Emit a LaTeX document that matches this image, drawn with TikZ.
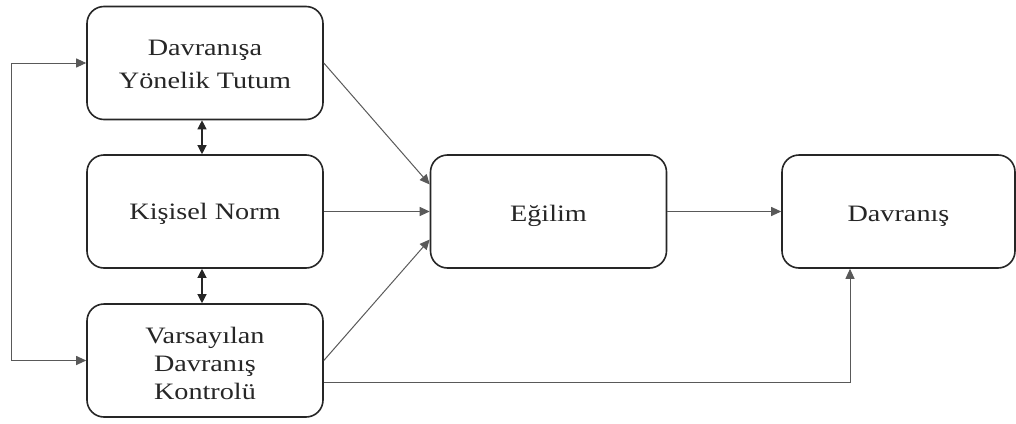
\documentclass[tikz,border=0pt]{standalone}
\usepackage{fontspec}
\usepackage{graphicx}
\setmainfont{Liberation Serif}
\usetikzlibrary{arrows.meta}

% wide-set, centred label text: [line spacing]{drop}{lines}
% the drop lowers the ink while keeping the reported box size unchanged
\newcommand{\boxtext}[3][30]{\raisebox{-#2pt}[\height][\depth]{\scalebox{1.2}[1]{\fontsize{23.5}{#1}\selectfont\begin{tabular}{@{}c@{}}#3\end{tabular}}}}

\tikzset{
  stagebox/.style={draw=black!85, line width=1.6pt, rounded corners=17pt,
    minimum width=236pt, minimum height=113pt, inner sep=0pt,
    text=black!85, fill=white},
  link/.style={draw=black!65, line width=1pt,
    -{Triangle[length=10pt,width=9pt]}},
  twoway/.style={draw=black!85, line width=1.2pt,
    {Triangle[length=9pt,width=9pt]}-{Triangle[length=9pt,width=9pt]}}
}

\begin{document}
\begin{tikzpicture}[x=1pt,y=-1pt]
  \useasboundingbox (0,0) rectangle (1016,423);

  \node[stagebox] (tutum)   at (205,63)    {\boxtext[33]{2}{Davranışa\\Yönelik Tutum}};
  \node[stagebox] (norm)    at (205,211.5) {\boxtext{2}{Kişisel Norm}};
  \node[stagebox] (kontrol) at (205,360.5) {\boxtext[28]{5}{Varsayılan\\Davranış\\Kontrolü}};
  \node[stagebox] (egilim)  at (548.5,211.5) {\boxtext{4}{Eğilim}};
  \node[stagebox, minimum width=233pt] (davranis) at (898.5,211.5) {\boxtext{4}{Davranış}};

  % feedback loop on the left
  \draw[link, {Triangle[length=10pt,width=9pt]}-{Triangle[length=10pt,width=9pt]}]
    (tutum.west) -- ++(-75,0) |- (kontrol.west);

  % mutual links between the predictors
  \draw[twoway] ([xshift=-3pt]tutum.south) -- ([xshift=-3pt]norm.north);
  \draw[twoway] ([xshift=-3pt]norm.south) -- ([xshift=-3pt]kontrol.north);

  % predictors to intention
  \draw[link] (tutum.east) -- ([yshift=27pt]egilim.west);
  \draw[link] (norm.east) -- (egilim.west);
  \draw[link] (kontrol.east) -- ([yshift=-28pt]egilim.west);

  % intention to behaviour, and direct control path
  \draw[link] (egilim.east) -- (davranis.west);
  \draw[link] ([yshift=-22pt]kontrol.east) -| ([xshift=-48.5pt]davranis.south);
\end{tikzpicture}
\end{document}
